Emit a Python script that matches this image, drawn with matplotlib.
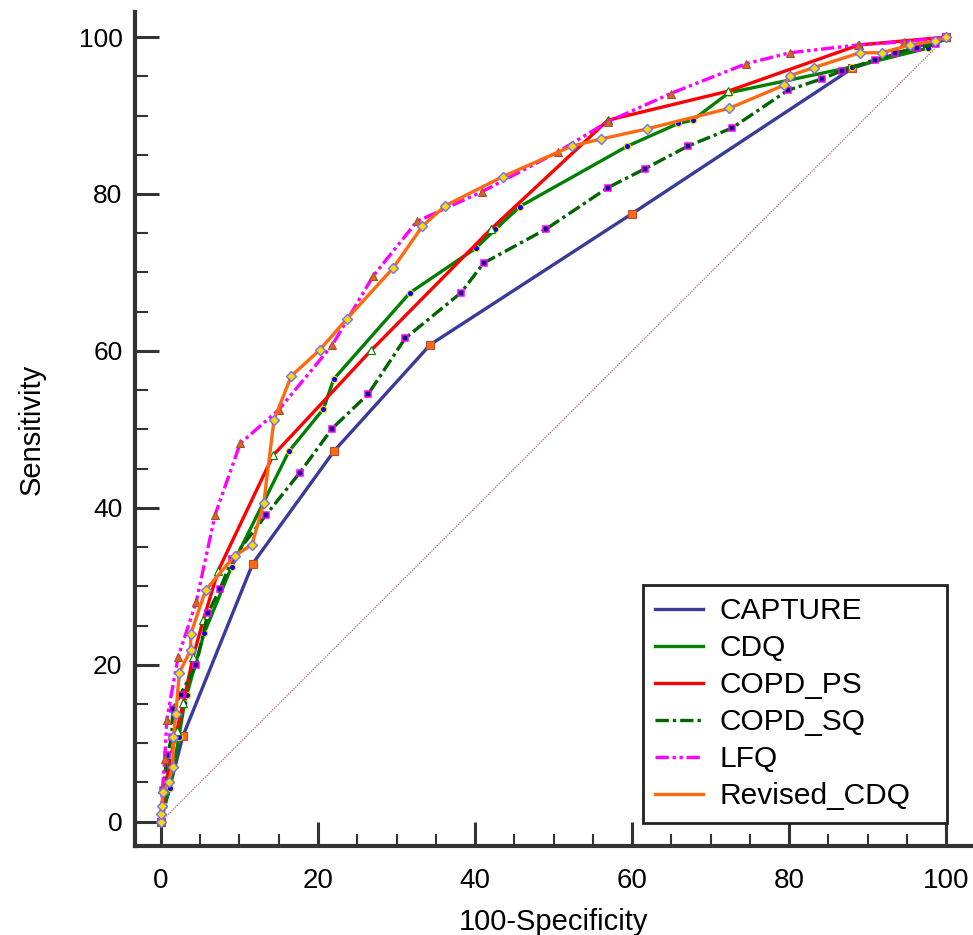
import matplotlib.pyplot as plt
from matplotlib.lines import Line2D
from matplotlib.patches import Rectangle

# ROC curves (100-Specificity vs Sensitivity)
capture_x = [0, 2.8, 11.7, 22.1, 34.3, 60.0, 88.0, 100]
capture_y = [0, 10.9, 32.9, 47.3, 60.8, 77.5, 96.0, 100]

cdq_x = [0, 0.4, 1.15, 2.3, 3.0, 3.3, 5.5, 9.0, 16.3, 20.7, 22.0, 31.7, 40.1, 42.6,
         45.7, 59.4, 65.9, 67.7, 72.3, 88.0, 97.7, 100]
cdq_y = [0, 2.0, 4.3, 10.8, 15.1, 16.2, 24.0, 32.5, 47.2, 52.6, 56.4, 67.4, 73.1, 75.5,
         78.4, 86.1, 89.0, 89.4, 92.9, 96.2, 98.6, 100]

ps_x = [0, 0.5, 1.3, 2.0, 2.85, 4.1, 5.4, 7.3, 14.3, 26.8, 42.0, 56.9, 72.2, 88.9, 100]
ps_y = [0, 4.0, 8.5, 11.5, 15.1, 21.0, 25.7, 32.0, 46.7, 60.1, 75.5, 89.4, 93.1, 99.0, 100]

sq_x = [0, 0.3, 0.8, 1.4, 1.5, 2.5, 4.5, 6.0, 7.5, 9.1, 13.4, 17.7, 21.8, 26.4, 31.1,
        38.2, 41.1, 49.0, 56.9, 61.6, 67.1, 72.7, 79.8, 84.2, 86.7, 90.9, 93.5, 96.3,
        98.7, 100]
sq_y = [0, 4.0, 8.5, 10.8, 14.3, 16.2, 20.0, 26.6, 29.6, 33.5, 39.1, 44.5, 50.1, 54.5,
        61.6, 67.4, 71.2, 75.5, 80.8, 83.2, 86.1, 88.4, 93.2, 94.7, 95.7, 97.1, 98.0,
        98.6, 99.1, 100]

lfq_x = [0, 0.2, 0.5, 0.75, 2.2, 4.5, 6.9, 10.1, 15.0, 21.8, 27.0, 32.6, 40.9, 50.6,
         56.9, 64.9, 74.5, 80.1, 88.8, 94.6, 100]
lfq_y = [0, 4.1, 8.0, 13.0, 21.0, 28.0, 39.1, 48.2, 52.5, 60.7, 69.5, 76.5, 80.3, 85.4,
         89.2, 92.8, 96.6, 98.0, 99.0, 99.4, 100]

rev_x = [0, 0.05, 0.1, 0.3, 1.0, 1.5, 1.6, 1.9, 2.35, 3.8, 3.8, 5.7, 9.4, 11.6, 13.1,
         14.4, 16.6, 20.2, 23.7, 29.6, 33.3, 36.2, 43.5, 52.3, 56.0, 61.9, 72.3, 79.4,
         80.1, 83.1, 89.0, 91.8, 95.4, 98.6, 100]
rev_y = [0, 1.0, 2.0, 3.8, 5.1, 7.0, 10.8, 13.7, 19.0, 21.9, 23.9, 29.5, 33.9, 35.3, 40.6,
         51.2, 56.8, 60.1, 64.1, 70.6, 75.9, 78.5, 82.2, 86.1, 87.0, 88.3, 90.9, 93.9,
         95.1, 96.1, 98.0, 98.0, 99.0, 99.5, 100]

labels = ['CAPTURE', 'CDQ', 'COPD_PS', 'COPD_SQ', 'LFQ', 'Revised_CDQ']

plt.rcParams['font.family'] = ['Liberation Sans', 'DejaVu Sans']
narrow = ['Liberation Sans Narrow', 'Liberation Sans', 'DejaVu Sans']

fig = plt.figure(figsize=(9.73, 9.35), dpi=100)
ax = fig.add_axes([0.1387, 0.0952, 0.8613, 0.892])

# diagonal reference
ax.plot([0, 100], [0, 100], color='#b06a6a', lw=0.9, ls=(0, (1, 1)), zorder=1)

lw = 2.4
dashdot = (0, (4, 1.2, 1, 1.2))
dashdotdot = (0, (4, 1.1, 1, 1.1, 1, 1.1))

ax.plot(capture_x, capture_y, color='#3a3a9a', lw=lw, marker='s', ms=5.5,
        mfc='#ff6a10', mec='#b05030', mew=0.8, zorder=2)
ax.plot(cdq_x, cdq_y, color='#008000', lw=lw, marker='o', ms=4.5,
        mfc='#0000ff', mec='#ffd700', mew=0.8, zorder=3)
ax.plot(ps_x, ps_y, color='#ff0000', lw=lw, marker='^', ms=5.5,
        mfc='white', mec='#008000', mew=0.8, zorder=4)
ax.plot(sq_x, sq_y, color='#006400', lw=lw, ls=dashdot, marker='s', ms=5,
        mfc='#000080', mec='#ff00ff', mew=1.1, zorder=5)
ax.plot(lfq_x, lfq_y, color='#ff00ff', lw=lw, ls=dashdotdot, marker='^', ms=5.5,
        mfc='#e0602a', mec='#a0522d', mew=0.8, zorder=6)
ax.plot(rev_x, rev_y, color='#ff6a10', lw=lw, marker='D', ms=5,
        mfc='#ffd700', mec='#7070ff', mew=1.0, zorder=7)

ax.set_xlim(-3.3, 103.4)
ax.set_ylim(-3.1, 103.2)
ax.set_xticks([0, 20, 40, 60, 80, 100])
ax.set_yticks([0, 20, 40, 60, 80, 100])
ax.set_xticks(range(0, 101, 5), minor=True)
ax.set_yticks(range(0, 101, 5), minor=True)

for s in ['top', 'right']:
    ax.spines[s].set_visible(False)
for s in ['left', 'bottom']:
    ax.spines[s].set_linewidth(3)
    ax.spines[s].set_color('#333333')

ax.tick_params(which='major', direction='in', length=17, width=2.2, color='#333333')
ax.tick_params(which='minor', direction='in', length=9, width=1.5, color='#333333')
ax.tick_params(axis='y', which='major', labelsize=19, pad=9)
ax.tick_params(axis='x', which='major', labelsize=20, pad=16)
for t in ax.get_xticklabels():
    t.set_family(narrow)

ax.set_xlabel('100-Specificity', fontsize=21, labelpad=10, family=narrow)
ax.set_ylabel('Sensitivity', fontsize=21, labelpad=24, family=narrow)

# legend box with fixed size, like the original
box = Rectangle((0.606, 0.0276), 0.363, 0.285, transform=ax.transAxes,
                facecolor='white', edgecolor='#222222', lw=2, zorder=8)
ax.add_patch(box)

colors = ['#3a3a9a', '#008000', '#ff0000', '#006400', '#ff00ff', '#ff6a10']
styles = ['-', '-', '-', dashdot, dashdotdot, '-']
handles = [Line2D([0], [0], color=c, lw=lw, ls=st) for c, st in zip(colors, styles)]
leg = ax.legend(handles, labels, loc='upper left', bbox_to_anchor=(0.606, 0.3126),
                fontsize=21.5, frameon=False, handlelength=1.6,
                handletextpad=0.57, labelspacing=0.3, borderpad=0.4, borderaxespad=0)
leg.set_zorder(10)

fig.savefig('out.png', dpi=100)
